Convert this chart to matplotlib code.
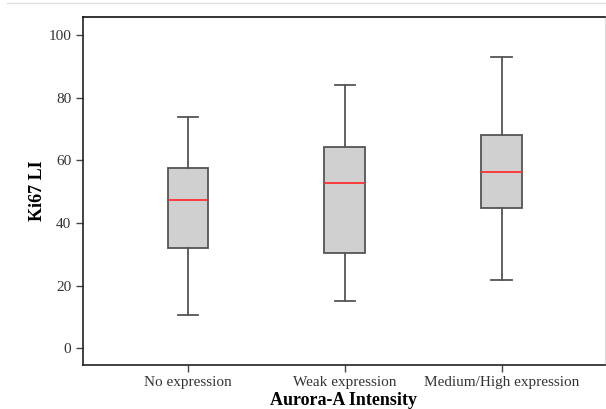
import matplotlib.pyplot as plt
from matplotlib.lines import Line2D

groups = ['No expression', 'Weak expression', 'Medium/High expression']
whislo = [10.5, 15.0, 21.7]
q1 = [32.0, 30.5, 44.7]
med = [47.3, 52.7, 56.3]
q3 = [57.5, 64.2, 68.0]
whishi = [73.7, 84.0, 92.9]

plt.rcParams['font.family'] = ['Liberation Serif', 'DejaVu Serif']

stats = []
for i in range(len(groups)):
    stats.append(dict(label=groups[i], whislo=whislo[i], q1=q1[i], med=med[i],
                      q3=q3[i], whishi=whishi[i], fliers=[]))

fig = plt.figure(figsize=(6.06, 4.09), dpi=100)
ax = fig.add_axes([83/606, 44/409, 522/606, 348/409])

edge = '#555555'
ax.bxp(stats, positions=[1, 2, 3], widths=0.26, patch_artist=True,
       capwidths=0.13,
       boxprops=dict(facecolor='#d0d0d0', edgecolor=edge, linewidth=1.3),
       whiskerprops=dict(color=edge, linewidth=1.3),
       capprops=dict(color=edge, linewidth=1.3),
       medianprops=dict(color='#ff3030', linewidth=1.3))

ax.set_xlim(0.33, 3.66)
ax.set_ylim(-5.4, 105.8)
ax.set_yticks([0, 20, 40, 60, 80, 100])
ax.set_xticks([1, 2, 3])
ax.set_xticklabels(groups)
ax.tick_params(axis='both', colors='#444444', labelcolor='#333333',
               labelsize=11, length=5, width=1)
ax.tick_params(axis='x', pad=3)

for s in ['left', 'bottom']:
    ax.spines[s].set_color('#222222')
    ax.spines[s].set_linewidth(1.2)
ax.spines['top'].set_color('#111111')
ax.spines['top'].set_linewidth(1.2)
ax.spines['right'].set_color('#dddddd')
ax.spines['right'].set_linewidth(0.8)

ax.set_ylabel('Ki67 LI', fontsize=13, fontweight='bold', labelpad=2)
ax.set_xlabel('Aurora-A Intensity', fontsize=13, fontweight='bold', labelpad=2)

fig.add_artist(Line2D([7/606, 1], [1 - 3/409, 1 - 3/409], color='#dddddd',
                      linewidth=1, transform=fig.transFigure))

fig.savefig('out.png', dpi=100)
